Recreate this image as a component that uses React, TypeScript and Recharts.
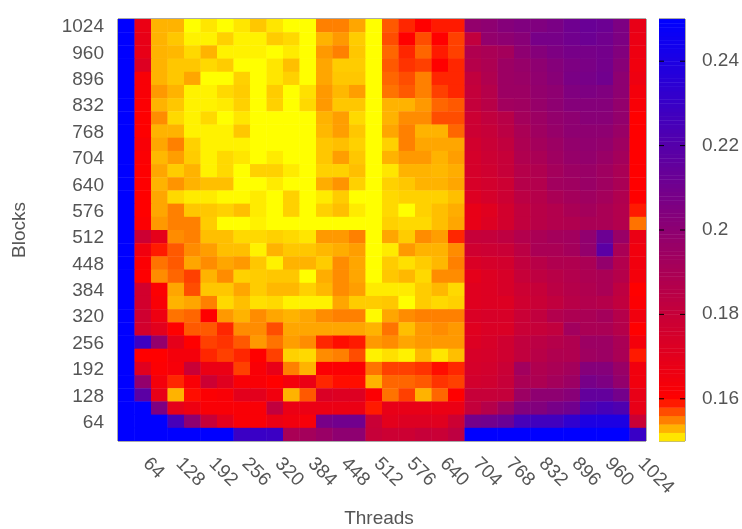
import React from "react";
import { ScatterChart, Scatter, XAxis, YAxis, ReferenceArea } from "recharts";

const threadTicks = [64, 128, 192, 256, 320, 384, 448, 512, 576, 640, 704, 768, 832, 896, 960, 1024];
const blockTicks = [64, 128, 192, 256, 320, 384, 448, 512, 576, 640, 704, 768, 832, 896, 960, 1024];
const colorTicks = [0.16, 0.18, 0.2, 0.22, 0.24];
const colorLevels = [
  0.151, 0.153, 0.155, 0.157, 0.159, 0.1605, 0.1615, 0.1625, 0.1635, 0.1645, 0.1655, 0.1665, 0.1675, 0.1685, 0.1695,
  0.1705, 0.1715, 0.1725, 0.1735, 0.1745, 0.1755, 0.1765, 0.1775, 0.1785, 0.1795,
  0.1805, 0.1815, 0.1825, 0.1835, 0.1845, 0.1855, 0.1865, 0.1875, 0.1885, 0.1895,
  0.1905, 0.1915, 0.1925, 0.1935, 0.1945, 0.1955, 0.1965, 0.1975, 0.1985, 0.1995,
  0.2005, 0.2015, 0.2025, 0.2035, 0.2045, 0.2055, 0.2065, 0.2075, 0.2085, 0.2095,
  0.2105, 0.2115, 0.2125, 0.2135, 0.2145, 0.2155, 0.2165, 0.2175, 0.2185, 0.2195,
  0.2205, 0.2215, 0.2225, 0.2235, 0.2245, 0.2255, 0.2265, 0.2275, 0.2285, 0.2295,
  0.2305, 0.2315, 0.2325, 0.2335, 0.2345, 0.2355, 0.2365, 0.2375, 0.2385, 0.2395,
  0.2405, 0.2415, 0.2425, 0.2435, 0.2445, 0.2455, 0.2465, 0.2475, 0.2485, 0.2495,
];
const threadValues = [
  32, 64, 96, 128, 160, 192, 224, 256, 288, 320, 352, 384, 416, 448, 480, 512,
  544, 576, 608, 640, 672, 704, 736, 768, 800, 832, 864, 896, 928, 960, 992, 1024,
];
const blockValues = [
  1024, 992, 960, 928, 896, 864, 832, 800, 768, 736, 704, 672, 640, 608, 576, 544,
  512, 480, 448, 416, 384, 352, 320, 288, 256, 224, 192, 160, 128, 96, 64, 32,
];
// measured time, in units of 0.0001; rows run from 1024 blocks down to 32
const timeRows = [
  [2500,1670,1530,1530,1500,1510,1500,1510,1522,1510,1500,1500,1550,1550,1535,1500, 1565,1585,1600,1590,1590,1980,2000,2030,2050,2050,2070,2110,2130,2120,2060,1680],
  [2500,1680,1530,1522,1505,1505,1518,1505,1505,1520,1515,1500,1530,1540,1520,1500, 1570,1600,1570,1600,1575,1820,1980,2000,2020,2080,2080,2100,2120,2100,2060,1670],
  [2500,1680,1530,1528,1515,1530,1505,1505,1505,1500,1508,1500,1540,1550,1522,1500, 1560,1585,1560,1590,1575,1880,1900,1920,2000,2030,2060,2080,2080,2090,2040,1660],
  [2500,1720,1530,1522,1522,1515,1520,1500,1500,1510,1525,1500,1535,1520,1520,1500, 1565,1580,1575,1600,1585,1860,1890,1950,1970,2000,2030,2060,2070,2090,2020,1650],
  [2500,1620,1530,1522,1535,1500,1500,1518,1500,1510,1518,1500,1535,1522,1522,1500, 1560,1570,1550,1585,1585,1820,1880,1950,1960,1990,2020,2070,2080,2100,2000,1660],
  [2500,1620,1540,1530,1505,1505,1515,1520,1500,1520,1500,1512,1540,1528,1538,1500, 1555,1565,1550,1575,1585,1810,1860,1950,1950,1980,2000,2050,2060,2050,2000,1640],
  [2500,1610,1530,1522,1505,1505,1508,1518,1500,1518,1500,1515,1540,1522,1522,1500, 1530,1530,1540,1560,1565,1810,1850,1930,1940,1970,2000,2030,2030,2030,1980,1620],
  [2500,1605,1545,1515,1505,1515,1500,1510,1500,1500,1500,1500,1530,1538,1515,1500, 1530,1545,1545,1570,1570,1780,1820,1850,1920,1950,1980,2000,2020,2020,1980,1600],
  [2500,1605,1530,1530,1505,1505,1505,1522,1500,1500,1500,1500,1528,1538,1522,1500, 1535,1550,1530,1530,1560,1780,1800,1840,1900,1940,1970,2000,2000,2000,1960,1600],
  [2500,1620,1535,1550,1518,1505,1505,1505,1500,1500,1500,1500,1522,1525,1518,1500, 1518,1550,1535,1535,1535,1760,1790,1820,1890,1920,1950,1980,1990,1980,1940,1600],
  [2500,1610,1528,1538,1520,1505,1515,1510,1500,1508,1500,1500,1522,1538,1522,1500, 1530,1540,1540,1530,1538,1750,1780,1800,1880,1900,1940,1970,1980,1960,1920,1600],
  [2500,1605,1535,1520,1530,1505,1515,1500,1518,1518,1508,1500,1518,1518,1525,1500, 1510,1530,1530,1528,1532,1750,1770,1800,1860,1880,1920,1950,1960,1940,1900,1600],
  [2500,1605,1530,1542,1530,1525,1525,1500,1500,1508,1500,1500,1532,1542,1518,1500, 1518,1522,1530,1530,1535,1740,1760,1780,1860,1870,1930,1940,1960,1940,1900,1600],
  [2500,1600,1535,1515,1508,1508,1502,1502,1508,1500,1518,1500,1508,1520,1500,1500, 1515,1518,1518,1518,1525,1720,1750,1780,1840,1860,1900,1920,1940,1920,1880,1600],
  [2500,1600,1535,1550,1522,1522,1518,1525,1508,1500,1518,1500,1518,1525,1508,1500, 1515,1500,1518,1525,1532,1680,1710,1760,1820,1850,1870,1900,1920,1900,1870,1590],
  [2500,1610,1540,1550,1550,1520,1500,1500,1505,1500,1500,1500,1500,1500,1500,1500, 1518,1515,1515,1525,1535,1680,1720,1760,1820,1850,1870,1880,1900,1900,1870,1555],
  [2500,1780,1690,1545,1550,1525,1525,1515,1515,1518,1515,1510,1540,1540,1550,1500, 1535,1520,1545,1538,1585,1800,1810,1830,1870,1900,1920,1930,1990,2120,1960,1670],
  [2500,1650,1590,1565,1545,1538,1525,1525,1505,1530,1522,1522,1528,1532,1538,1500, 1508,1540,1530,1530,1545,1770,1780,1790,1840,1900,1900,1920,1980,2180,1900,1650],
  [2500,1610,1555,1565,1535,1545,1535,1540,1522,1505,1530,1530,1520,1545,1535,1500, 1520,1512,1520,1528,1550,1730,1750,1760,1820,1850,1880,1880,1900,1980,1870,1650],
  [2500,1605,1545,1560,1575,1530,1545,1518,1520,1522,1522,1500,1532,1545,1535,1500, 1522,1528,1515,1545,1545,1690,1720,1740,1800,1830,1850,1870,1890,1900,1860,1640],
  [2500,1760,1610,1535,1570,1522,1522,1535,1520,1528,1528,1518,1528,1545,1538,1508, 1508,1508,1520,1528,1515,1710,1720,1740,1780,1800,1840,1860,1880,1900,1830,1600],
  [2500,1760,1620,1530,1535,1550,1515,1525,1512,1515,1505,1505,1505,1535,1520,1520, 1522,1500,1520,1515,1518,1710,1720,1720,1770,1790,1820,1850,1870,1860,1820,1610],
  [2500,1770,1660,1555,1560,1600,1540,1530,1545,1535,1530,1535,1545,1550,1550,1502, 1535,1545,1550,1550,1550,1730,1740,1740,1790,1820,1870,1890,1900,1920,1860,1650],
  [2500,1760,1700,1600,1565,1565,1585,1545,1545,1570,1535,1535,1535,1535,1535,1530, 1555,1525,1540,1545,1540,1710,1730,1730,1790,1800,1820,1930,1900,1900,1860,1600],
  [2500,2280,1980,1690,1600,1575,1580,1565,1540,1555,1538,1545,1585,1595,1590,1540, 1545,1535,1540,1540,1540,1720,1740,1770,1820,1840,1860,1880,1950,1950,1900,1640],
  [2500,1600,1600,1640,1640,1585,1575,1585,1600,1575,1518,1515,1545,1550,1570,1505, 1512,1505,1528,1510,1525,1740,1750,1770,1820,1850,1880,1880,1940,1950,1900,1590],
  [2500,1710,1610,1630,1790,1670,1670,1575,1620,1680,1550,1530,1610,1610,1610,1555, 1575,1575,1580,1595,1585,1750,1760,1790,1930,1880,1900,1920,2030,2030,1960,1650],
  [2500,1980,1640,1585,1620,1780,1710,1620,1620,1600,1640,1670,1585,1595,1595,1530, 1560,1560,1565,1580,1575,1760,1770,1800,1900,1890,1920,1950,2080,2060,1980,1650],
  [2500,2180,1680,1530,1595,1610,1620,1700,1700,1650,1530,1565,1730,1720,1720,1610, 1555,1575,1530,1560,1600,1800,1800,1810,1950,2000,2000,2020,2150,2150,2090,1680],
  [2500,2500,2060,1690,1660,1620,1620,1620,1620,1820,1670,1670,1670,1670,1670,1590, 1680,1680,1680,1670,1670,1810,1860,1940,2040,2040,2080,2100,2220,2250,2220,1680],
  [2500,2500,2500,2250,2000,1800,1700,1620,1620,1670,1650,1630,2080,2100,2100,1790, 1700,1720,1720,1710,1780,2090,2100,2130,2250,2270,2270,2330,2400,2400,2400,1790],
  [2500,2500,2500,2500,2500,2500,2500,2290,2300,2290,1900,1920,1960,2000,2000,1800, 1780,1780,1800,1790,1830,2500,2500,2500,2500,2500,2500,2500,2500,2500,2500,2300],
];

const heatPoints = timeRows.flatMap((row, r) =>
  row.map((v, c) => ({ thread: threadValues[c], block: blockValues[r], time: v / 10000 }))
);
const barPoints = colorLevels.map((level) => ({ pos: 0.5, level }));

const TEXT = "#555555";
const FONT = "'Liberation Sans', Arial, sans-serif";
const FS = 19;

function paletteColor(v: number) {
  if (v < 0.16) {
    const g = Math.round(255 * Math.min(1, (0.16 - v) / 0.01));
    return `rgb(255,${g},0)`;
  }
  const t = Math.min(1, (v - 0.16) / 0.09);
  return `rgb(${Math.round(255 * (1 - t))},0,${Math.round(255 * t)})`;
}

const CELL_W = 528 / 32;
const CELL_H = 422 / 32;
const BAR_W = 26;

function HeatCell(p: any) {
  return (
    <rect
      x={p.cx - CELL_W / 2}
      y={p.cy - CELL_H / 2}
      width={CELL_W + 0.4}
      height={CELL_H + 0.4}
      fill={paletteColor(p.payload.time)}
    />
  );
}

function BarCell(p: any) {
  const h = p.payload.level < 0.16 ? 8.44 : 4.22;
  return (
    <rect
      x={p.cx - BAR_W / 2}
      y={p.cy - h / 2}
      width={BAR_W}
      height={h + 0.4}
      fill={paletteColor(p.payload.level)}
    />
  );
}

function RotatedTick(p: any) {
  const x = p.x + 3;
  return (
    <text
      x={x}
      y={p.y}
      transform={`rotate(45 ${x} ${p.y})`}
      textAnchor="start"
      dominantBaseline="middle"
      fill={TEXT}
      fontFamily={FONT}
      fontSize={FS}
    >
      {p.payload.value}
    </text>
  );
}

function ColorTick(p: any) {
  return (
    <g>
      <line x1={0} x2={5} y1={p.y} y2={p.y} stroke="#000" />
      <line x1={BAR_W - 5} x2={BAR_W} y1={p.y} y2={p.y} stroke="#000" />
      <text x={p.x} y={p.y} dominantBaseline="middle" fill={TEXT} fontFamily={FONT} fontSize={FS}>
        {p.payload.value}
      </text>
    </g>
  );
}

export default function App() {
  return (
    <div style={{ position: "absolute", left: 0, top: 0, width: 742, height: 529, background: "#fff", filter: "blur(0.5px)" }}>
      <div style={{ position: "absolute", left: 0, top: 0 }}>
        <ScatterChart width={742} height={529} margin={{ left: 0, right: 96, top: 19, bottom: 0 }}>
          <XAxis
            type="number"
            dataKey="thread"
            domain={[16, 1040]}
            ticks={threadTicks}
            interval={0}
            allowDataOverflow
            height={88}
            tickLine={false}
            axisLine={false}
            tickSize={0}
            tickMargin={20}
            tick={<RotatedTick />}
            label={{ value: "Threads", position: "insideBottom", offset: 5, dx: -3, fill: TEXT, fontFamily: FONT, fontSize: FS }}
          />
          <YAxis
            type="number"
            dataKey="block"
            domain={[16, 1040]}
            ticks={blockTicks}
            interval={0}
            allowDataOverflow
            width={118}
            tickLine={false}
            axisLine={false}
            tickSize={0}
            tickMargin={14}
            tick={{ fill: TEXT, fontFamily: FONT, fontSize: FS }}
            label={{ value: "Blocks", angle: -90, position: "insideLeft", offset: 18, textAnchor: "middle", fill: TEXT, fontFamily: FONT, fontSize: FS }}
          />
          <Scatter data={heatPoints} shape={<HeatCell />} isAnimationActive={false} />
          <ReferenceArea x1={16} x2={1040} y1={16} y2={1040} fill="none" stroke="#555" strokeWidth={1} ifOverflow="visible" />
        </ScatterChart>
      </div>
      <div style={{ position: "absolute", left: 659, top: 0 }}>
        <ScatterChart width={83} height={529} margin={{ left: 0, right: 0, top: 19, bottom: 88 }}>
          <XAxis type="number" dataKey="pos" domain={[0, 1]} hide />
          <YAxis
            type="number"
            dataKey="level"
            orientation="right"
            domain={[0.15, 0.25]}
            ticks={colorTicks}
            interval={0}
            width={57}
            tickLine={false}
            axisLine={false}
            tickSize={0}
            tickMargin={17}
            tick={<ColorTick />}
          />
          <Scatter data={barPoints} shape={<BarCell />} isAnimationActive={false} />
          <ReferenceArea x1={0} x2={1} y1={0.15} y2={0.25} fill="none" stroke="#555" strokeWidth={1} ifOverflow="visible" />
        </ScatterChart>
      </div>
    </div>
  );
}
